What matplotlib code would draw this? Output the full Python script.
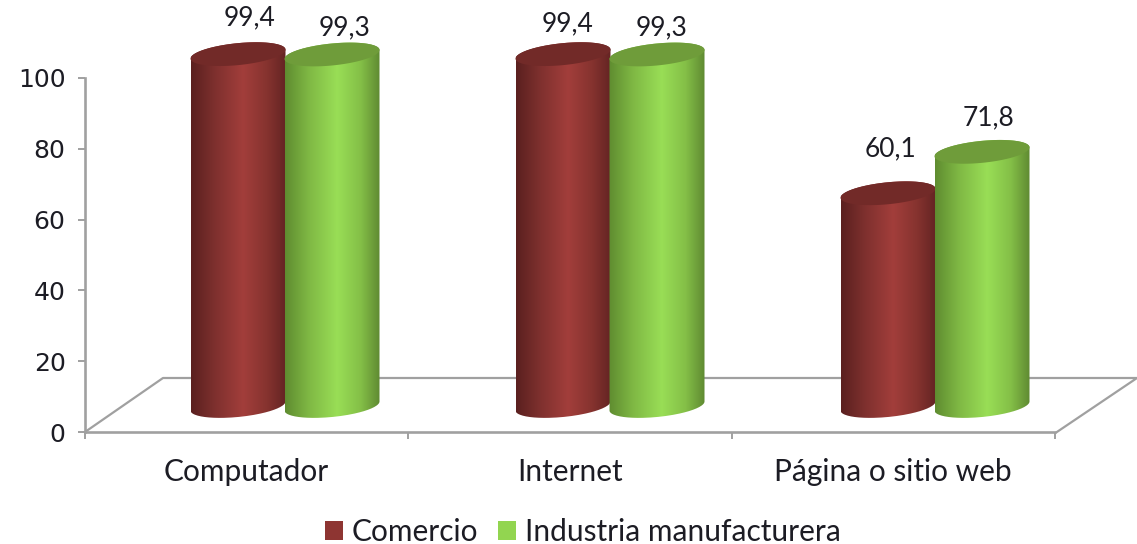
import numpy as np
import matplotlib
matplotlib.use("Agg")
import matplotlib.pyplot as plt
from matplotlib.colors import LinearSegmentedColormap
from matplotlib.patches import PathPatch, Patch
from matplotlib.path import Path

categories = ["Computador", "Internet", "Página o sitio web"]
comercio = [99.4, 99.4, 60.1]
industria = [99.3, 99.3, 71.8]
series_names = ["Comercio", "Industria manufacturera"]
y_ticks = [0, 20, 40, 60, 80, 100]

W, H = 1137, 544
PX_X = 323.3   # pixels per category
PX_Y = 3.54    # pixels per value unit
AX_L, AX_B = 85, 432

fig = plt.figure(figsize=(W / 100, H / 100), dpi=100)
ax = fig.add_axes([AX_L / W, (H - AX_B) / H, (W - AX_L) / W, AX_B / H])
ax.set_xlim(0, (W - AX_L) / PX_X)
ax.set_ylim(0, AX_B / PX_Y)
ax.patch.set_alpha(0)

FONT = "Lato"
TXT = "#1c1c24"
GRID = "#a0a0a0"

for s in ("top", "right"):
    ax.spines[s].set_visible(False)
for s in ("left", "bottom"):
    ax.spines[s].set_color(GRID)
    ax.spines[s].set_linewidth(1.9)
ax.spines["left"].set_bounds(0, 100)
ax.spines["bottom"].set_bounds(0, 3)

ax.set_yticks(y_ticks)
ax.set_yticklabels([str(v) for v in y_ticks], fontsize=18, family="DejaVu Sans", color=TXT)
ax.tick_params(axis="y", length=5, width=1.4, color=GRID, pad=9)
ax.set_xticks([0, 1, 2, 3])
ax.set_xticklabels([])
ax.tick_params(axis="x", length=5, width=1.4, color=GRID)
ax.set_xticks([0.5, 1.5, 2.5], minor=True)
ax.set_xticklabels(categories, minor=True, fontsize=21.5, family=FONT, color=TXT)
ax.tick_params(axis="x", which="minor", length=0, pad=18.5)

# floor of the 3D box
DX = 78 / PX_X
DY = 54 / PX_Y
ax.plot([0, DX, (W - AX_L) / PX_X, 3 + 2 / PX_X], [0, DY, DY, 0], color=GRID, lw=1.6, zorder=1, clip_on=False)

cm_red = LinearSegmentedColormap.from_list("r", [(0, "#5a201f"), (0.25, "#7e302e"), (0.55, "#a23e3b"), (0.8, "#86332f"), (1, "#642423")])
cm_green = LinearSegmentedColormap.from_list("g", [(0, "#5f8c30"), (0.25, "#7fb844"), (0.55, "#99de56"), (0.8, "#84bf47"), (1, "#5f8a32")])

BAR_W = 95 / PX_X
A = BAR_W / 2
B = 11 / PX_Y
TILT = 4.5 / PX_Y
BASE = (AX_B - 406) / PX_Y
FIRST = (285 - AX_L) / PX_X


def cylinder(cx, value, cmap, top_color, z):
    top = BASE + value
    t = np.linspace(0, np.pi, 80)
    # upper rim left to right, lower rim of base
    ell = lambda c, tt: c + B * np.sin(tt) + TILT * np.cos(tt)
    x_top = cx + A * np.cos(t)
    y_top = ell(top, t)
    x_bot = cx + A * np.cos(-t[::-1])
    y_bot = ell(BASE, -t[::-1])
    verts = np.r_[np.c_[x_top, y_top], np.c_[x_bot, y_bot], [[x_top[0], y_top[0]]]]
    body = PathPatch(Path(verts), fc="none", ec="none", transform=ax.transData)
    ax.add_patch(body)
    grad = np.linspace(0, 1, 256).reshape(1, -1)
    im = ax.imshow(grad, cmap=cmap, aspect="auto", zorder=z, interpolation="bilinear",
                   extent=[cx - A, cx + A, BASE - B - TILT, top + B + TILT])
    im.set_clip_path(body)
    tt = np.linspace(0, 2 * np.pi, 160)
    ax.fill(cx + A * np.cos(tt), ell(top, tt), color=top_color, zorder=z + 0.1, lw=0)


label_dx = [[12, 13], [5, 5], [2, 6]]      # px offset of the data labels from bar centre
label_dy = [[36, 27], [30, 27], [44, 34]]  # px offset above the top centre

for i in range(len(categories)):
    c = FIRST + i * (325 / PX_X)
    xr, xg = c - 47 / PX_X, c + 47 / PX_X
    z = 3 + i
    cylinder(xr, comercio[i], cm_red, "#722a28", z)
    cylinder(xg, industria[i], cm_green, "#6f9c3a", z + 0.3)
    for x, v, dx, dy in ((xr, comercio[i], label_dx[i][0], label_dy[i][0]),
                         (xg, industria[i], label_dx[i][1], label_dy[i][1])):
        ax.text(x + dx / PX_X, BASE + v + dy / PX_Y, f"{v:.1f}".replace(".", ","),
                ha="center", va="center", fontsize=19, family=FONT, color=TXT, zorder=10)

ax.set_xlim(0, (W - AX_L) / PX_X)
ax.set_ylim(0, AX_B / PX_Y)

handles = [Patch(fc="#8e3532", ec="none"), Patch(fc="#92d550", ec="none")]
fig.legend(handles, series_names, loc="center", bbox_to_anchor=(583 / W, 1 - 532 / H), ncol=2,
           frameon=False, prop={"family": FONT, "size": 21.5}, labelcolor=TXT,
           handlelength=0.6, handleheight=0.6, handletextpad=0.3, columnspacing=0.65, borderpad=0)

fig.savefig("out.png", dpi=100, facecolor="white")
